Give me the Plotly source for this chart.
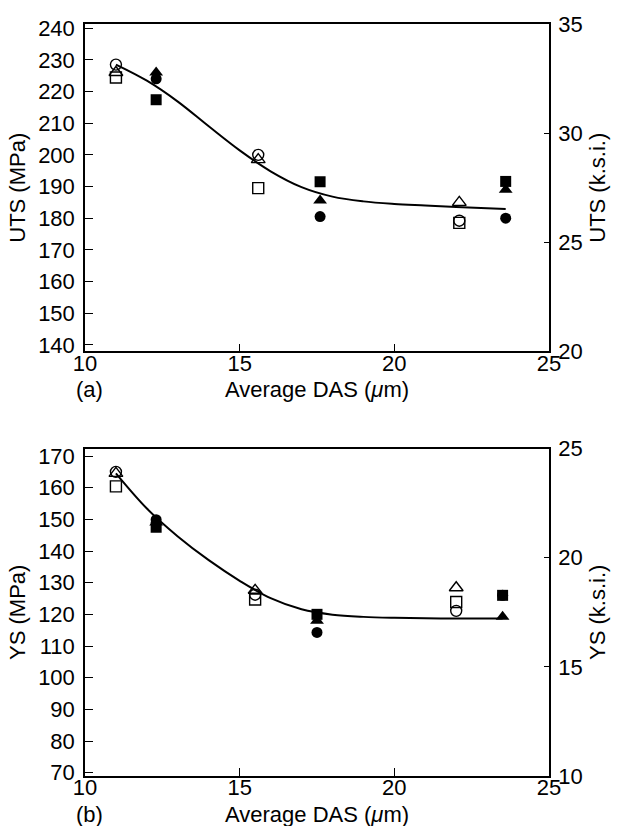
import plotly.graph_objects as go

KSI = 6.894757  # MPa per k.s.i.

# ---------------- panel (a): UTS ----------------
das_open_a = [11.0, 15.6, 22.1]
das_filled_a = [12.3, 17.6, 23.6]
uts_open_circle = [228.5, 200.0, 179.2]
uts_open_triangle = [226.0, 198.5, 185.0]
uts_open_square = [224.4, 189.5, 178.5]
uts_filled_circle = [224.0, 180.5, 180.0]
uts_filled_triangle = [226.0, 185.6, 189.0]
uts_filled_square = [217.4, 191.5, 191.6]
fit_das_a = [11.0, 12.0, 13.0, 14.0, 15.0, 16.0, 17.0, 18.0, 19.0, 20.0, 21.0, 22.0, 23.6]
fit_uts = [228.5, 223.4, 216.8, 209.0, 201.4, 194.8, 189.8, 186.8, 185.3, 184.5, 184.0, 183.5, 182.9]

# ---------------- panel (b): YS ----------------
das_open_b = [11.0, 15.5, 22.0]
das_filled_b = [12.3, 17.5, 23.5]
ys_open_circle = [165.0, 126.2, 121.1]
ys_open_triangle = [164.5, 127.6, 128.4]
ys_open_square = [160.4, 124.7, 123.9]
ys_filled_circle = [149.9, 114.3, 126.0]
ys_filled_triangle = [149.0, 118.0, 119.2]
ys_filled_square = [147.5, 120.0, 126.0]
fit_das_b = [11.0, 12.0, 13.0, 14.0, 15.0, 16.0, 17.0, 18.0, 19.0, 20.0, 21.5, 23.5]
fit_ys = [164.5, 153.4, 144.6, 137.1, 130.6, 125.1, 121.6, 119.9, 119.2, 118.9, 118.7, 118.7]

x_ticks = [10, 15, 20, 25]
uts_ticks = [140, 150, 160, 170, 180, 190, 200, 210, 220, 230, 240]
ys_ticks = [70, 80, 90, 100, 110, 120, 130, 140, 150, 160, 170]
ksi_ticks_a = [20, 25, 30, 35]
ksi_ticks_b = [10, 15, 20, 25]

FONT = "Liberation Sans"
FS = 22

fig = go.Figure()

def add_markers(x, y, symbol, xa, ya, size=11):
    open_ = symbol.endswith("-open")
    fig.add_trace(go.Scatter(
        x=x, y=y, mode="markers", xaxis=xa, yaxis=ya, showlegend=False,
        marker=dict(symbol=symbol, size=size, color="black",
                    line=dict(color="black", width=1.4 if open_ else 0)),
        cliponaxis=False,
    ))

# curve (a)
fig.add_trace(go.Scatter(x=fit_das_a, y=fit_uts, mode="lines", xaxis="x", yaxis="y",
                         line=dict(color="black", width=2, shape="spline", smoothing=1.0),
                         showlegend=False))
add_markers(das_open_a, uts_open_circle, "circle-open", "x", "y")
add_markers(das_open_a, uts_open_triangle, "triangle-up-open", "x", "y", 12)
add_markers(das_open_a, uts_open_square, "square-open", "x", "y")
add_markers(das_filled_a, uts_filled_circle, "circle", "x", "y")
add_markers(das_filled_a, uts_filled_triangle, "triangle-up", "x", "y", 12)
add_markers(das_filled_a, uts_filled_square, "square", "x", "y")

# curve (b)
fig.add_trace(go.Scatter(x=fit_das_b, y=fit_ys, mode="lines", xaxis="x2", yaxis="y3",
                         line=dict(color="black", width=2, shape="spline", smoothing=1.0),
                         showlegend=False))
add_markers(das_open_b, ys_open_circle, "circle-open", "x2", "y3")
add_markers(das_open_b, ys_open_triangle, "triangle-up-open", "x2", "y3", 12)
add_markers(das_open_b, ys_open_square, "square-open", "x2", "y3")
add_markers(das_filled_b, ys_filled_circle, "circle", "x2", "y3")
add_markers(das_filled_b, ys_filled_triangle, "triangle-up", "x2", "y3", 12)
add_markers(das_filled_b, ys_filled_square, "square", "x2", "y3")

# empty traces so the secondary (k.s.i.) axes are drawn
fig.add_trace(go.Scatter(x=[], y=[], xaxis="x", yaxis="y2", showlegend=False, hoverinfo="skip"))
fig.add_trace(go.Scatter(x=[], y=[], xaxis="x2", yaxis="y4", showlegend=False, hoverinfo="skip"))

axis_common = dict(showgrid=False, zeroline=False, showline=True, linecolor="black",
                   linewidth=1.5, ticks="inside", tickcolor="black", tickwidth=1.3,
                   tickfont=dict(family=FONT, size=FS, color="black"))

dom_a = [0.5645, 1.0]
dom_b = [0.0, 0.4355]

tf = dict(family=FONT, size=FS, color="black")

fig.update_layout(
    width=618, height=826,
    margin=dict(l=85, r=62, t=16, b=50),
    paper_bgcolor="white", plot_bgcolor="white",
    font=tf,
    xaxis=dict(axis_common, domain=[0, 1], anchor="y", range=[10, 25], tickvals=x_ticks,
               ticklen=8, mirror=True, ticklabelstandoff=-9),
    yaxis=dict(axis_common, domain=dom_a, anchor="x", range=[20 * KSI, 35 * KSI],
               tickvals=uts_ticks, ticklen=8, ticklabelstandoff=4,
               title=dict(text="UTS (MPa)", font=tf, standoff=6)),
    yaxis2=dict(axis_common, overlaying="y", side="right", anchor="x", range=[20, 35],
                tickvals=ksi_ticks_a, ticklen=5, ticklabelstandoff=3,
                title=dict(text="UTS (k.s.i.)", font=tf, standoff=8)),
    xaxis2=dict(axis_common, domain=[0, 1], anchor="y3", range=[10, 25], tickvals=x_ticks,
                ticklen=8, mirror=True, ticklabelstandoff=-9),
    yaxis3=dict(axis_common, domain=dom_b, anchor="x2", range=[10 * KSI, 25 * KSI],
                tickvals=ys_ticks, ticklen=8, ticklabelstandoff=4,
                title=dict(text="YS (MPa)", font=tf, standoff=6)),
    yaxis4=dict(axis_common, overlaying="y3", side="right", anchor="x2", range=[10, 25],
                tickvals=ksi_ticks_b, ticklen=5, ticklabelstandoff=3,
                title=dict(text="YS (k.s.i.)", font=tf, standoff=8)),
)

for lab, xa, ya in [("(a)", "x", "y"), ("(b)", "x2", "y3")]:
    fig.add_annotation(text=lab, xref=f"{xa} domain", yref=f"{ya} domain", x=0.01, y=0,
                       xanchor="center", yanchor="top", yshift=-25, showarrow=False,
                       font=tf, borderpad=0)
    fig.add_annotation(text="Average DAS (<i>μ</i>m)", xref=f"{xa} domain", yref=f"{ya} domain",
                       x=0.5, y=0, xanchor="center", yanchor="top", yshift=-25,
                       showarrow=False, font=tf, borderpad=0)

fig.write_html("out.html")
